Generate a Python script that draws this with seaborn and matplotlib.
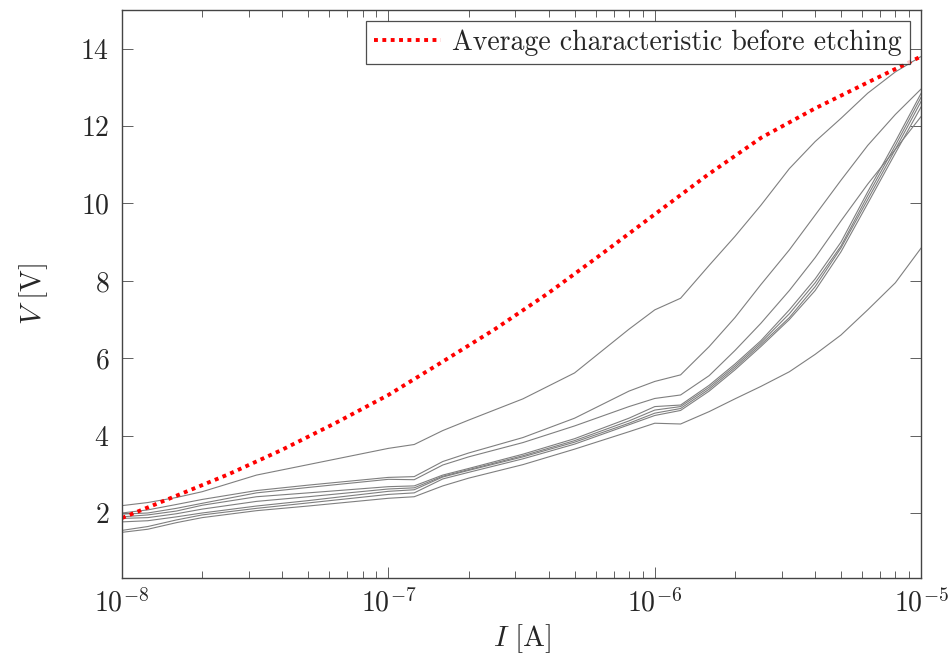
import numpy as np
import pandas as pd
import seaborn as sns
import matplotlib.pyplot as plt
from matplotlib.ticker import LogLocator, FixedLocator

# measured I-V curves after etching (8 samples)
current = [1e-8, 1.25e-8, 1.6e-8, 2e-8, 3.2e-8, 5e-8, 1e-7, 1.25e-7, 1.6e-7, 2e-7,
           3.2e-7, 5e-7, 8e-7, 1e-6, 1.25e-6, 1.6e-6, 2e-6, 2.5e-6, 3.2e-6, 4e-6,
           5e-6, 6.3e-6, 8e-6, 1e-5]

v_a = [2.19, 2.27, 2.40, 2.55, 2.98, 3.25, 3.67, 3.77, 4.13, 4.40, 4.95, 5.62,
       6.75, 7.25, 7.55, 8.40, 9.15, 9.95, 10.90, 11.60, 12.20, 12.85, 13.40, 13.80]
v_b = [2.00, 2.08, 2.22, 2.35, 2.58, 2.72, 2.92, 2.94, 3.33, 3.55, 3.95, 4.45,
       5.15, 5.40, 5.57, 6.30, 7.05, 7.90, 8.80, 9.70, 10.60, 11.50, 12.30, 12.96]
v_c = [1.97, 2.00, 2.12, 2.25, 2.52, 2.66, 2.87, 2.86, 3.24, 3.45, 3.82, 4.25,
       4.75, 4.96, 5.05, 5.55, 6.20, 6.90, 7.75, 8.60, 9.55, 10.50, 11.40, 12.25]
v_d = [1.90, 1.95, 2.05, 2.20, 2.42, 2.52, 2.68, 2.70, 2.98, 3.15, 3.52, 3.92,
       4.45, 4.75, 4.79, 5.30, 5.85, 6.45, 7.25, 8.05, 9.00, 10.30, 11.60, 12.85]
v_e = [1.86, 1.88, 1.98, 2.10, 2.30, 2.42, 2.62, 2.65, 2.95, 3.12, 3.48, 3.87,
       4.38, 4.66, 4.75, 5.25, 5.80, 6.40, 7.15, 7.95, 8.90, 10.20, 11.50, 12.75]
v_f = [1.77, 1.80, 1.90, 2.00, 2.18, 2.32, 2.56, 2.60, 2.93, 3.10, 3.45, 3.83,
       4.32, 4.58, 4.70, 5.20, 5.75, 6.35, 7.05, 7.85, 8.85, 10.10, 11.40, 12.64]
v_g = [1.55, 1.65, 1.82, 1.95, 2.12, 2.26, 2.48, 2.52, 2.88, 3.05, 3.40, 3.78,
       4.28, 4.52, 4.65, 5.15, 5.70, 6.30, 7.00, 7.75, 8.75, 10.00, 11.30, 12.50]
v_h = [1.50, 1.58, 1.75, 1.88, 2.06, 2.18, 2.38, 2.42, 2.70, 2.90, 3.25, 3.65,
       4.10, 4.32, 4.30, 4.62, 4.95, 5.27, 5.65, 6.10, 6.60, 7.25, 7.95, 8.85]

samples = [v_a, v_b, v_c, v_d, v_e, v_f, v_g, v_h]

# average characteristic before etching
avg_current = [1e-8, 1.58e-8, 2.51e-8, 3.98e-8, 6.31e-8, 1e-7, 1.58e-7, 2.51e-7,
               3.98e-7, 6.31e-7, 1e-6, 1.58e-6, 2.51e-6, 3.98e-6, 6.31e-6, 1e-5]
avg_voltage = [1.87, 2.43, 3.00, 3.63, 4.32, 5.05, 5.89, 6.75, 7.68, 8.69,
               9.72, 10.74, 11.70, 12.45, 13.13, 13.80]

sns.set_style("ticks")
plt.rcParams["font.family"] = "serif"
plt.rcParams["font.serif"] = ["cmr10", "DejaVu Serif"]
plt.rcParams["mathtext.fontset"] = "cm"
plt.rcParams["axes.formatter.use_mathtext"] = True

rows = []
for i, volts in enumerate(samples):
    for c, v in zip(current, volts):
        rows.append({"sample": i, "current": c, "voltage": v})
df = pd.DataFrame(rows)
avg = pd.DataFrame({"current": avg_current, "voltage": avg_voltage})

fig = plt.figure(figsize=(9.53, 6.58), dpi=100)
ax = fig.add_axes([0.128, 0.1216, 0.8386, 0.8632])

sns.lineplot(data=df, x="current", y="voltage", units="sample", estimator=None,
             color="#7f7f7f", linewidth=0.8, ax=ax, legend=False)
sns.lineplot(data=avg, x="current", y="voltage", color="red", linewidth=2.8,
             dashes=False, ax=ax, label="Average characteristic before etching")
ax.lines[-1].set_dashes((1, 1.15))

ax.set_xscale("log")
ax.set_xlim(1e-8, 1e-5)
ax.set_ylim(0.32, 15.0)
ax.set_yticks([2, 4, 6, 8, 10, 12, 14])
ax.xaxis.set_major_locator(FixedLocator([1e-8, 1e-7, 1e-6, 1e-5]))
ax.xaxis.set_minor_locator(LogLocator(base=10, subs=np.arange(2, 10)))

ax.tick_params(which="both", direction="in", top=True, right=True,
               color="#606060", width=0.7, labelsize=20)
ax.tick_params(axis="y", which="major", length=8, pad=9)
ax.tick_params(axis="x", which="major", length=8, pad=8)
ax.tick_params(which="minor", length=5)
for s in ax.spines.values():
    s.set_color("#444444")
    s.set_linewidth(1.0)

ax.set_xlabel(r"$I\ [\mathrm{A}]$", fontsize=21, labelpad=3)
ax.set_ylabel(r"$V\ [\mathrm{V}]$", fontsize=21, labelpad=22)

leg = ax.legend(loc="upper right", fontsize=20, frameon=True, fancybox=False,
                handlelength=2.4, borderpad=0.3, borderaxespad=0.4,
                handletextpad=0.4)
leg.get_frame().set_edgecolor("#222222")
leg.get_frame().set_linewidth(0.9)

fig.savefig("out.png", dpi=100)
